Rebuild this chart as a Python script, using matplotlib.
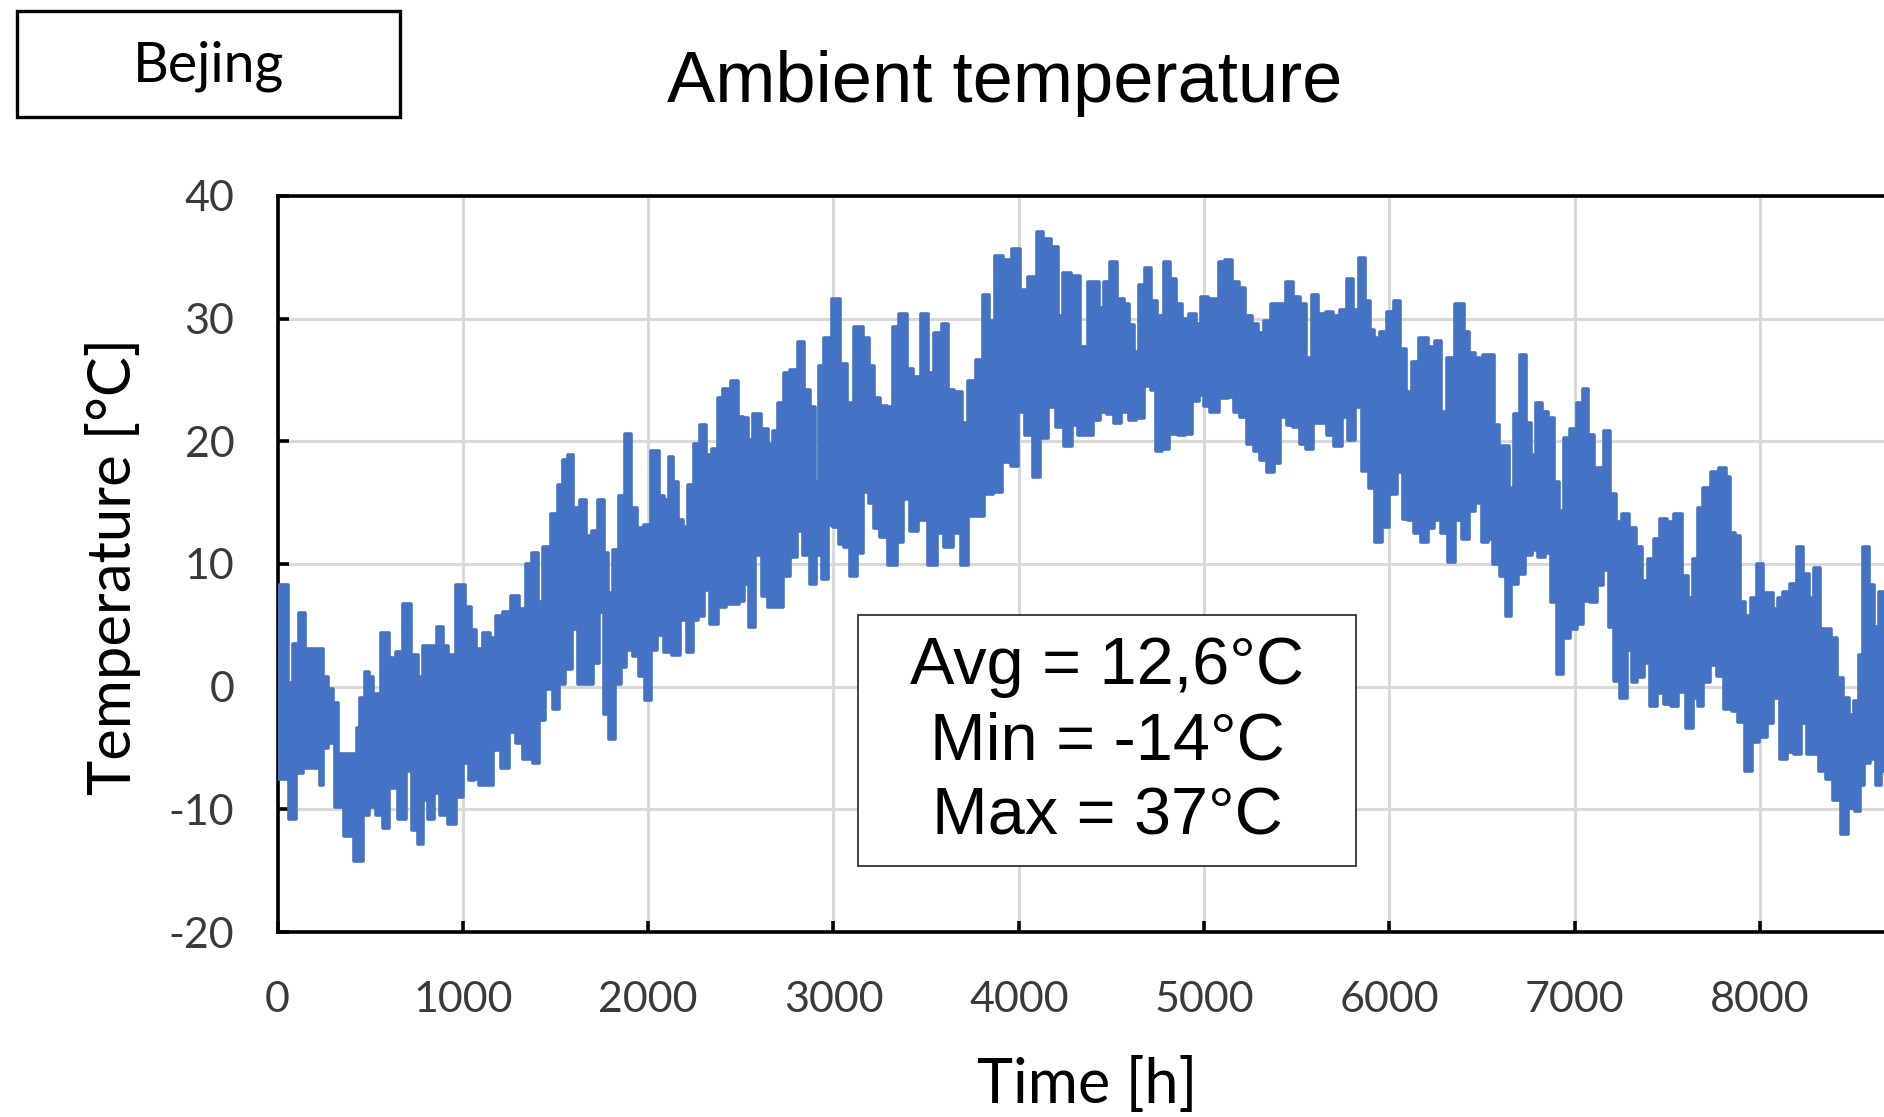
import numpy as np
import matplotlib
matplotlib.use("Agg")
import matplotlib.pyplot as plt
from matplotlib.cbook import pts_to_midstep
from matplotlib.patches import Rectangle

# upper edge of the hourly band (daily highs)
peak_hours = [0, 18, 45, 72, 99, 135, 162, 225, 261, 288, 315, 333, 423, 432, 459, 486, 504, 531,
              585, 621, 657, 702, 738, 774, 792, 846, 873, 909, 936, 990, 1035, 1057, 1084, 1129,
              1165, 1192, 1237, 1282, 1327, 1354, 1390, 1417, 1453, 1498, 1525, 1552, 1579, 1615,
              1651, 1678, 1714, 1750, 1777, 1795, 1822, 1858, 1894, 1921, 1957, 1993, 2038, 2074,
              2101, 2128, 2145, 2172, 2199, 2235, 2262, 2298, 2325, 2361, 2388, 2424, 2469, 2496,
              2532, 2550, 2586, 2631, 2658, 2685, 2721, 2748, 2784, 2829, 2856, 2892, 2910, 2937,
              2964, 3018, 3054, 3090, 3135, 3180, 3207, 3233, 3269, 3305, 3332, 3377, 3413, 3449,
              3494, 3521, 3566, 3602, 3629, 3674, 3710, 3746, 3791, 3827, 3854, 3890, 3935, 3989,
              4025, 4079, 4115, 4151, 4196, 4223, 4259, 4304, 4358, 4394, 4421, 4448, 4475, 4511,
              4547, 4583, 4610, 4637, 4664, 4700, 4727, 4763, 4799, 4835, 4862, 4898, 4943, 4970,
              4997, 5042, 5069, 5096, 5132, 5168, 5204, 5240, 5276, 5303, 5339, 5384, 5419, 5464,
              5500, 5536, 5563, 5599, 5635, 5680, 5716, 5752, 5788, 5815, 5851, 5887, 5905, 5932,
              5968, 6004, 6040, 6076, 6103, 6139, 6184, 6229, 6265, 6292, 6328, 6382, 6418, 6445,
              6481, 6498, 6516, 6552, 6579, 6606, 6633, 6660, 6687, 6723, 6750, 6777, 6804, 6840,
              6876, 6903, 6930, 6957, 6993, 7029, 7056, 7092, 7119, 7146, 7173, 7209, 7236, 7272,
              7317, 7344, 7380, 7407, 7443, 7479, 7515, 7560, 7595, 7622, 7649, 7676, 7712, 7757,
              7802, 7829, 7847, 7883, 7901, 7937, 7964, 8000, 8027, 8054, 8081, 8108, 8144, 8180,
              8216, 8252, 8279, 8306, 8342, 8369, 8396, 8432, 8468, 8495, 8522, 8540, 8567, 8603,
              8630, 8657, 8700]
peak_temps = [6.7, 8.3, 8.3, 0.3, 3.5, 6.0, 3.1, 3.1, 0.8, -0.2, -1.3, -5.5, -5.5, -3.4, -0.9, 1.2, 0.8, -0.6,
              4.4, 2.3, 2.8, 6.7, 2.6, 0.8, 3.3, 3.3, 4.9, 3.3, 2.6, 8.3, 6.5, 4.6, 3.1, 4.4,
              4.0, 5.8, 6.1, 7.4, 6.3, 10.0, 10.9, 6.9, 11.4, 14.1, 16.4, 18.5, 18.9, 14.6,
              15.2, 12.3, 12.7, 15.2, 10.9, 7.6, 11.1, 15.5, 20.6, 14.6, 12.9, 13.2, 19.2, 15.5,
              15.2, 18.7, 16.7, 13.6, 13.0, 16.4, 19.8, 21.3, 18.9, 19.4, 23.5, 24.3, 24.9, 22.0,
              21.9, 20.1, 22.2, 21.0, 19.8, 20.8, 23.1, 25.6, 25.8, 28.1, 24.2, 22.8, 16.7, 26.1,
              28.4, 31.6, 26.3, 23.1, 29.3, 28.4, 26.1, 23.5, 22.9, 22.8, 29.3, 30.4, 25.9, 25.2,
              30.4, 25.6, 28.8, 29.6, 24.2, 24.0, 21.5, 24.9, 26.6, 31.9, 29.8, 35.1, 34.8, 35.7,
              32.3, 33.4, 37.1, 36.5, 35.8, 30.2, 33.7, 33.5, 27.7, 33.0, 33.0, 30.9, 33.0, 34.6,
              31.6, 31.2, 29.5, 27.3, 32.7, 34.1, 31.4, 30.2, 34.6, 33.2, 31.2, 30.0, 30.4, 29.6,
              31.8, 31.6, 31.6, 34.6, 34.8, 33.0, 32.5, 30.2, 29.6, 28.8, 29.8, 31.2, 31.2, 33.0,
              31.8, 31.2, 26.8, 31.9, 30.4, 30.5, 30.2, 30.7, 33.2, 30.7, 34.9, 31.4, 29.1, 28.4,
              28.9, 30.5, 31.4, 27.5, 24.0, 26.5, 28.4, 27.7, 28.2, 22.4, 26.8, 31.2, 28.9, 27.2,
              26.8, 22.4, 27.0, 27.0, 21.3, 19.6, 19.6, 16.2, 22.2, 27.0, 21.5, 18.9, 23.1, 22.4,
              21.9, 16.7, 14.3, 20.3, 21.0, 23.1, 24.3, 20.5, 17.8, 17.8, 20.8, 15.7, 13.4, 14.1,
              12.9, 11.4, 8.6, 10.4, 12.0, 13.7, 13.4, 14.1, 9.0, 7.2, 10.4, 14.6, 16.2, 17.5,
              17.8, 17.1, 12.5, 12.3, 6.9, 5.8, 7.2, 10.0, 7.6, 7.6, 6.3, 7.2, 7.7, 8.4,
              11.4, 9.2, 7.2, 9.7, 4.7, 4.7, 4.0, 0.7, -0.9, -2.3, -1.2, 2.6, 11.4, 8.3,
              4.9, 7.7, 6.0]

# lower edge of the band (daily lows)
low_hours = [0, 45, 81, 117, 153, 225, 234, 261, 288, 333, 387, 441, 477, 513, 549, 585, 621, 675,
             711, 738, 774, 792, 837, 855, 900, 945, 981, 1017, 1053, 1066, 1111, 1147, 1183, 1228,
             1273, 1300, 1354, 1399, 1426, 1462, 1507, 1534, 1570, 1606, 1633, 1687, 1723, 1750,
             1777, 1804, 1840, 1867, 1894, 1939, 1966, 2002, 2029, 2065, 2101, 2155, 2190, 2226,
             2253, 2289, 2316, 2352, 2397, 2442, 2478, 2505, 2532, 2559, 2595, 2631, 2667, 2712,
             2748, 2784, 2820, 2856, 2892, 2919, 2955, 2982, 3018, 3045, 3072, 3108, 3144, 3171,
             3207, 3233, 3269, 3323, 3359, 3395, 3431, 3485, 3539, 3575, 3620, 3665, 3710, 3746,
             3791, 3836, 3881, 3935, 3980, 4016, 4052, 4097, 4133, 4178, 4223, 4268, 4304, 4340,
             4385, 4421, 4457, 4493, 4529, 4574, 4610, 4655, 4700, 4727, 4754, 4790, 4835, 4880,
             4916, 4952, 4988, 5015, 5051, 5114, 5141, 5177, 5213, 5249, 5285, 5321, 5357, 5393,
             5428, 5464, 5500, 5536, 5563, 5608, 5644, 5680, 5725, 5761, 5797, 5833, 5869, 5905,
             5941, 5977, 6022, 6058, 6085, 6112, 6148, 6193, 6220, 6265, 6292, 6337, 6373, 6409,
             6445, 6481, 6516, 6543, 6579, 6615, 6642, 6669, 6714, 6750, 6786, 6822, 6858, 6885,
             6921, 6957, 6993, 7029, 7065, 7101, 7137, 7164, 7200, 7227, 7263, 7299, 7317, 7353,
             7389, 7425, 7461, 7497, 7542, 7577, 7622, 7649, 7676, 7712, 7748, 7784, 7829, 7865,
             7901, 7937, 7973, 8018, 8054, 8090, 8126, 8162, 8207, 8234, 8270, 8306, 8333, 8378,
             8414, 8459, 8495, 8531, 8549, 8576, 8612, 8639, 8666, 8700]
low_temps = [-7.5, -7.5, -10.8, -7.0, -6.6, -6.6, -8.0, -5.0, -4.6, -9.8, -12.2, -14.2, -10.5, -9.8, -10.5, -11.5, -8.3, -10.8,
             -6.9, -11.7, -12.8, -9.2, -10.8, -8.7, -10.5, -11.2, -9.0, -6.2, -7.6, -7.5, -8.0, -8.0, -5.2, -6.6,
             -3.7, -4.6, -5.9, -6.2, -2.7, -0.2, -1.8, 0.2, 1.4, 4.7, 0.2, 0.2, 1.9, 6.1,
             -2.2, -4.3, 0.2, 1.6, 3.0, 2.5, 0.9, -1.1, 3.0, 4.2, 2.8, 2.6, 5.4, 2.8,
             5.4, 5.8, 7.9, 5.1, 6.5, 6.7, 6.7, 7.0, 8.4, 4.9, 10.7, 7.4, 6.5, 6.5,
             9.0, 10.6, 12.7, 10.7, 8.4, 10.7, 8.8, 13.2, 13.0, 11.6, 11.4, 9.0, 10.9, 15.9,
             15.0, 12.9, 12.2, 9.9, 11.8, 15.3, 12.7, 13.6, 9.9, 12.5, 11.4, 12.5, 9.9, 13.9,
             13.9, 15.7, 15.9, 18.3, 18.0, 22.4, 20.5, 17.1, 20.3, 22.8, 21.2, 19.6, 21.3, 20.5,
             20.5, 21.7, 22.4, 22.2, 21.5, 22.4, 21.7, 21.9, 24.5, 24.2, 19.2, 19.4, 20.6, 20.5,
             20.6, 23.3, 23.8, 22.9, 22.4, 23.5, 23.6, 22.4, 22.0, 19.8, 19.2, 18.5, 17.5, 18.2,
             22.0, 21.3, 21.2, 19.8, 19.4, 21.5, 21.5, 20.5, 19.6, 22.0, 20.1, 22.8, 17.6, 16.2,
             11.8, 13.0, 15.7, 17.5, 13.7, 13.6, 12.5, 11.8, 12.9, 13.6, 12.5, 10.2, 13.6, 12.0,
             14.3, 15.0, 11.8, 12.0, 10.0, 9.0, 5.8, 8.4, 9.2, 10.7, 11.1, 10.6, 10.9, 6.9,
             1.0, 4.0, 4.7, 5.1, 7.0, 6.9, 8.3, 9.5, 4.9, 0.5, -0.9, 3.0, 0.4, 0.8,
             1.9, -1.6, -0.5, -1.4, -1.6, -0.4, -3.4, -0.9, -1.6, 0.4, 1.8, 0.9, -1.8, -2.0,
             -2.9, -6.9, -4.5, -4.1, -3.0, -0.9, -5.9, -5.3, -5.5, -3.0, -5.5, -5.5, -6.9, -7.5,
             -9.2, -12.0, -9.9, -10.1, -8.0, -6.2, -5.9, -8.0, -6.9, -6.0]

x_ticks = [0, 1000, 2000, 3000, 4000, 5000, 6000, 7000, 8000]
y_ticks = [-20, -10, 0, 10, 20, 30, 40]
stats_lines = ["Avg = 12,6°C", "Min = -14°C", "Max = 37°C"]
city = "Bejing"

blue = "#4472C4"
plt.rcParams["axes.unicode_minus"] = False

fig = plt.figure(figsize=(18.84, 11.17), dpi=100)
# axis runs to 9000 h, its right part falls outside the picture like in the original
ax = fig.add_axes([0.1473, 0.1656, 0.8853, 0.659])

# band = hourly swing between daily low and high, drawn as a stepped polygon
up = pts_to_midstep(np.array(peak_hours, float), np.array(peak_temps, float))
lo = pts_to_midstep(np.array(low_hours, float), np.array(low_temps, float))
ax.fill(np.concatenate([up[0], lo[0][::-1]]), np.concatenate([up[1], lo[1][::-1]]),
        color=blue, lw=0, zorder=3)
ax.plot(peak_hours, peak_temps, drawstyle="steps-mid", color=blue, lw=2.6, zorder=3)
ax.plot(low_hours, low_temps, drawstyle="steps-mid", color=blue, lw=2.6, zorder=3)

ax.set_xlim(0, 9000)
ax.set_ylim(-20, 40)
ax.set_xticks(x_ticks)
ax.set_yticks(y_ticks)
ax.grid(True, color="#d9d9d9", lw=2.2)
ax.axvline(9000, color="#d9d9d9", lw=2.2, zorder=0)
ax.set_axisbelow(True)
for s in ax.spines.values():
    s.set_color("black")
    s.set_linewidth(2.6)
ax.tick_params(direction="in", length=8, width=2.6, colors="black", labelcolor="#3a3a3a",
               labelsize=31)
ax.tick_params(axis="x", pad=35)
ax.tick_params(axis="y", pad=31)
for lab in ax.get_xticklabels() + ax.get_yticklabels():
    lab.set_family("Lato")

ax.set_xlabel("Time [h]", fontsize=44, family="Lato")
ax.set_ylabel("Temperature [°C]", fontsize=43, family="Lato")
ax.xaxis.set_label_coords(0.4853, -0.17)
ax.yaxis.set_label_coords(-0.082, 0.496)

fig.text(0.5335, 0.925, "Ambient temperature", ha="center", va="center", fontsize=52,
         family="Liberation Sans")

# city box, top left
fig.add_artist(Rectangle((0.009, 0.8953), 0.2033, 0.0949, transform=fig.transFigure,
                         facecolor="white", edgecolor="black", lw=2.4))
fig.text(0.1109, 0.9409, city, ha="center", va="center", fontsize=40, family="Lato")

# statistics box
fig.add_artist(Rectangle((0.4554, 0.2247), 0.2643, 0.2247, transform=fig.transFigure,
                         facecolor="white", edgecolor="#222222", lw=1.2))
for txt, yy in zip(stats_lines, [0.4029, 0.3357, 0.2677]):
    fig.text(0.5876, yy, txt, ha="center", va="center", fontsize=48, family="Liberation Sans")

fig.savefig("out.png", dpi=100)
